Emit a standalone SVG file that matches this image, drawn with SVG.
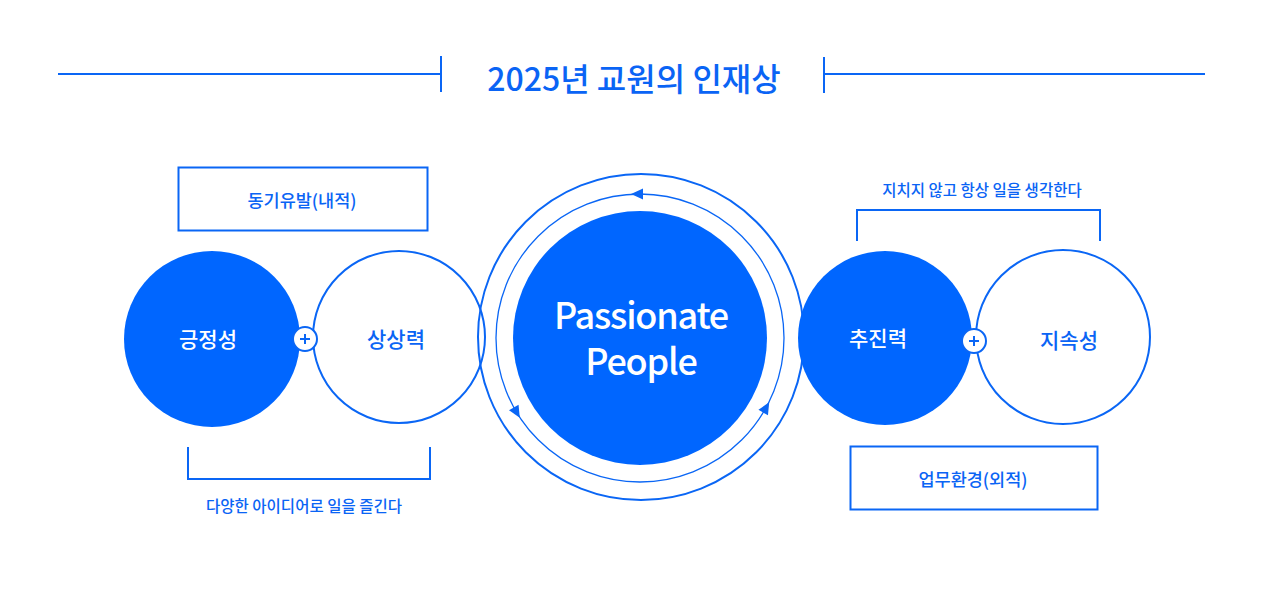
<svg xmlns="http://www.w3.org/2000/svg" width="1280" height="593" viewBox="0 0 1280 593">
<style>
  .ln{fill:none;stroke:#0a66f5;stroke-width:2}
  .thin{fill:none;stroke:#0a66f5;stroke-width:1.3}
  .fill{fill:#0066ff}
  .hollow{fill:#ffffff;stroke:#0a66f5;stroke-width:2}
  text{font-family:"Noto Sans CJK KR","Noto Sans",sans-serif;text-anchor:middle;dominant-baseline:central}
  .title{font-size:32px;font-weight:500;fill:#0a64f5}
  .lblw{font-size:21px;font-weight:500;fill:#ffffff}
  .lblb{font-size:21px;font-weight:500;fill:#0a64f5}
  .box{font-size:17.5px;font-weight:500;fill:#0a64f5}
  .note{font-size:15.5px;font-weight:500;fill:#0a64f5}
  .big{font-size:36px;font-weight:500;fill:#ffffff;letter-spacing:-1.2px}
  .plus{fill:#ffffff;stroke:#0a66f5;stroke-width:2}
</style>
<defs>
  <path id="ah" d="M -6 0 L 6 -5.5 L 6 5.5 Z" fill="#0a66f5"/>
</defs>
<rect width="1280" height="593" fill="#ffffff"/>

<g id="title">
  <line class="ln" x1="58" y1="74" x2="441" y2="74"/>
  <line class="ln" x1="441" y1="56" x2="441" y2="92"/>
  <line class="ln" x1="824" y1="74" x2="1205" y2="74"/>
  <line class="ln" x1="824" y1="57" x2="824" y2="93"/>
  <text class="title" x="634" y="77">2025년 교원의 인재상</text>
</g>

<g id="node-motivation">
  <rect class="ln" x="178.5" y="167.5" width="249" height="63" stroke-width="1.3"/>
  <text class="box" x="302" y="199">동기유발(내적)</text>
</g>

<g id="node-positive">
  <circle class="fill" cx="212" cy="339" r="88"/>
  <text class="lblw" x="208" y="338">긍정성</text>
</g>

<g id="node-imagination">
  <circle class="hollow" cx="399" cy="337" r="86"/>
  <text class="lblb" x="396" y="338">상상력</text>
</g>

<g id="plus-left">
  <circle class="plus" cx="305" cy="339" r="12"/>
  <path d="M 300 339 H 310 M 305 334 V 344" stroke="#0a66f5" stroke-width="2"/>
</g>

<g id="bracket-left">
  <path class="ln" d="M 188 447 V 479 H 430 V 447"/>
  <text class="note" x="304" y="505">다양한 아이디어로 일을 즐긴다</text>
</g>

<g id="node-center">
  <circle class="ln" cx="641" cy="337" r="163" stroke-width="1.6"/>
  <circle class="fill" cx="640" cy="338" r="127"/>
  <text class="big"><tspan x="641" y="313">Passionate</tspan><tspan x="641" y="359">People</tspan></text>
</g>

<g id="connectors">
  <circle class="thin" cx="640" cy="338" r="144"/>
  <use href="#ah" transform="rotate(0 640 338) translate(637 194)"/>
  <use href="#ah" transform="rotate(-120 640 338) translate(637 194)"/>
  <use href="#ah" transform="rotate(120 640 338) translate(637 194)"/>
</g>

<g id="node-drive">
  <circle class="fill" cx="885" cy="338" r="87"/>
  <text class="lblw" x="878" y="337">추진력</text>
</g>

<g id="node-persistence">
  <circle class="hollow" cx="1063" cy="337" r="87"/>
  <text class="lblb" x="1069" y="339">지속성</text>
</g>

<g id="plus-right">
  <circle class="plus" cx="974" cy="341" r="12"/>
  <path d="M 969 341 H 979 M 974 336 V 346" stroke="#0a66f5" stroke-width="2"/>
</g>

<g id="bracket-right">
  <path class="ln" d="M 857 241 V 210 H 1100 V 241"/>
  <text class="note" x="982" y="189">지치지 않고 항상 일을 생각한다</text>
</g>

<g id="node-environment">
  <rect class="ln" x="850.5" y="446.5" width="247" height="63" stroke-width="1.3"/>
  <text class="box" x="973" y="478">업무환경(외적)</text>
</g>
</svg>
